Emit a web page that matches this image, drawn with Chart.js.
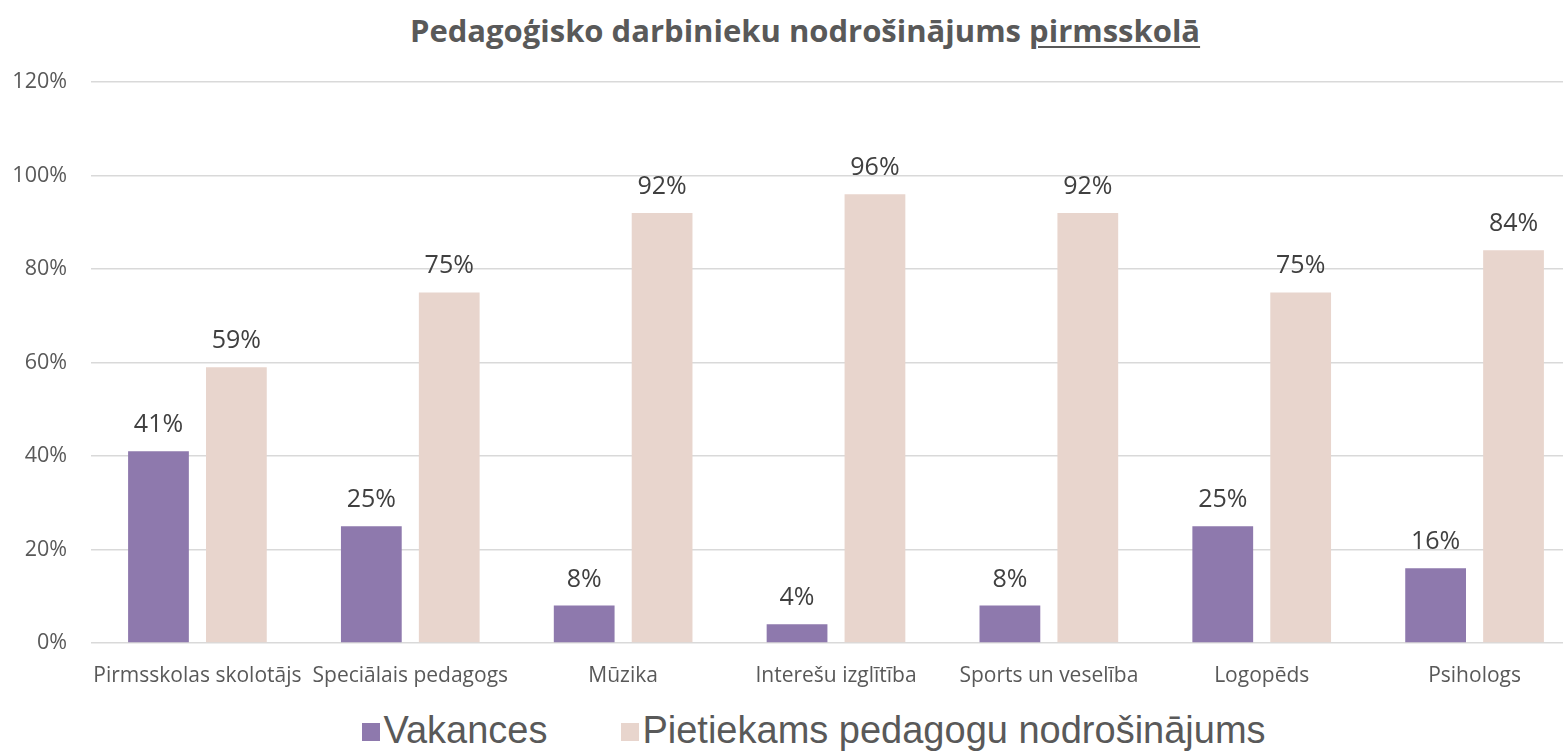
<!DOCTYPE html>
<html>
<head>
<meta charset="utf-8">
<script src="https://cdn.jsdelivr.net/npm/chart.js@4/dist/chart.umd.min.js"></script>
<style>
    html, body { margin: 0; padding: 0; background: #fff; overflow: hidden; width: 1563px; height: 753px; }
    #wrap { position: relative; width: 1610px; height: 753px; }
    #title {
        position: absolute; left: 0; top: 9px; width: 1610px; text-align: center;
        font-family: "Open Sans", sans-serif; font-weight: bold; font-size: 31px; color: #595959;
    }
    #title u { text-decoration-thickness: 2px; text-underline-offset: 4px; }
    #chartBox { position: absolute; left: 0; top: 0; width: 1610px; height: 690px; }
    #legend {
        position: absolute; left: 0; top: 708px; width: 1628px; display: flex; justify-content: center;
        font-family: "Liberation Sans", Arial, sans-serif; font-size: 38px; color: #595959; line-height: 44px;
    }
    .item { display: flex; align-items: center; margin: 0 37px; }
    .box { width: 18px; height: 18px; margin-right: 3px; margin-top: 4px; }
</style>
</head>
<body>
<div id="wrap">
    <div id="title">Pedagoģisko darbinieku nodrošinājums <u>pirmsskolā</u></div>
    <div id="chartBox"><canvas id="chart" width="1610" height="690"></canvas></div>
    <div id="legend"></div>
</div>
<script>
const categories = [
    "Pirmsskolas skolotājs",
    "Speciālais pedagogs",
    "Mūzika",
    "Interešu izglītība",
    "Sports un veselība",
    "Logopēds",
    "Psihologs",
];
const seriesNames = ["Vakances", "Pietiekams pedagogu nodrošinājums"];
const vakances = [41, 25, 8, 4, 8, 25, 16];
const pietiekams = [59, 75, 92, 96, 92, 75, 84];
const seriesColors = ["#8E79AD", "#E8D5CD"];

// value labels above each bar
const barLabels = {
    id: "barLabels",
    afterDatasetsDraw(chart) {
        const ctx = chart.ctx;
        ctx.save();
        ctx.font = "25px 'Open Sans'";
        ctx.fillStyle = "#404040";
        ctx.textAlign = "center";
        ctx.textBaseline = "alphabetic";
        chart.data.datasets.forEach((ds, i) => {
            chart.getDatasetMeta(i).data.forEach((bar, j) => {
                ctx.fillText(ds.data[j] + "%", bar.x, bar.y - 19);
            });
        });
        ctx.restore();
    },
};

const chart = new Chart(document.getElementById("chart"), {
    type: "bar",
    data: {
        labels: categories,
        datasets: [
            {
                label: seriesNames[0],
                data: vakances,
                backgroundColor: seriesColors[0],
                barPercentage: 0.78,
                categoryPercentage: 0.732,
            },
            {
                label: seriesNames[1],
                data: pietiekams,
                backgroundColor: seriesColors[1],
                barPercentage: 0.78,
                categoryPercentage: 0.732,
            },
        ],
    },
    options: {
        responsive: false,
        animation: false,
        layout: {
            padding: { top: 82, right: 29, bottom: 0, left: 0 },
        },
        plugins: {
            legend: { display: false },
            title: { display: false },
            tooltip: { enabled: false },
        },
        scales: {
            x: {
                afterFit: (scale) => {
                    scale.height = 47;
                },
                grid: { display: false, drawTicks: false },
                border: { display: false },
                ticks: {
                    color: "#595959",
                    padding: 20,
                    font: { family: "Open Sans", size: 21 },
                    maxRotation: 0,
                    autoSkip: false,
                },
            },
            y: {
                min: 0,
                max: 120,
                afterFit: (scale) => {
                    scale.width = 91;
                },
                grid: { color: "#D9D9D9", lineWidth: 1.5, drawTicks: false },
                border: { display: false },
                ticks: {
                    stepSize: 20,
                    padding: 24,
                    color: "#595959",
                    font: { family: "Open Sans", size: 21.5 },
                    callback: (v) => v + "%",
                },
            },
        },
    },
    plugins: [barLabels],
});

// legend built from the dataset names / colours
const legendEle = document.getElementById("legend");
seriesNames.forEach((name, i) => {
    const item = document.createElement("div");
    item.className = "item";
    item.innerHTML = `<span class="box" style="background:${seriesColors[i]}"></span><span>${name}</span>`;
    legendEle.appendChild(item);
});
</script>
</body>
</html>
